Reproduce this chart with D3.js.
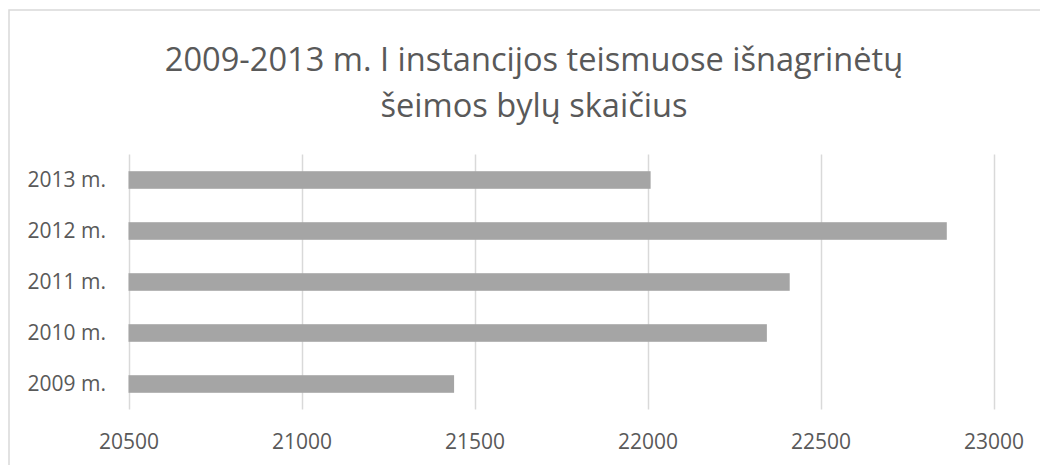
<!DOCTYPE html>
<html><head><meta charset="utf-8">
<script src="https://cdn.jsdelivr.net/npm/d3@7"></script>
<style>body{margin:0;background:#fff}svg{display:block}</style>
</head><body>
<svg id="c" width="1040" height="465"></svg>
<script>
const categories = ["2009 m.", "2010 m.", "2011 m.", "2012 m.", "2013 m."];
const values = [21441, 22345, 22411, 22865, 22009];
const xTicks = [20500, 21000, 21500, 22000, 22500, 23000];
const titleLines = ["2009-2013 m. I instancijos teismuose išnagrinėtų", "šeimos bylų skaičius"];

const font = "'Open Sans', sans-serif";
const textColor = "#595959";
const svg = d3.select("#c");

// outer chart border (cropped)
svg.append("path").attr("d", "M9,470 L9,10 L1045,10")
  .attr("fill", "none").attr("stroke", "#d9d9d9").attr("stroke-width", 1.5);

// title
svg.append("g").selectAll("text").data(titleLines).join("text")
  .attr("x", 534).attr("y", (d, i) => 71 + i * 46)
  .attr("text-anchor", "middle").attr("font-family", font)
  .attr("font-size", 32.6).attr("fill", textColor).text(d => d);

const x = d3.scaleLinear().domain([20500, 23000]).range([128.5, 993.5]);
const y = d3.scaleBand().domain(categories.slice().reverse()).range([154.5, 409.5]).padding(0);
const barH = y.bandwidth() * 0.345;

// gridlines
svg.append("g").selectAll("line").data(xTicks).join("line")
  .attr("x1", d => Math.round(x(d)) + 0.5).attr("x2", d => Math.round(x(d)) + 0.5)
  .attr("y1", 154.5).attr("y2", 409.5)
  .attr("stroke", "#d9d9d9").attr("stroke-width", 1.5);

// bars
svg.append("g").selectAll("rect").data(categories).join("rect")
  .attr("x", x(20500))
  .attr("y", d => y(d) + (y.bandwidth() - barH) / 2)
  .attr("width", (d, i) => x(values[i]) - x(20500))
  .attr("height", barH)
  .attr("fill", "#a5a5a5");

// x axis labels
const xAxis = d3.axisBottom(x).tickValues(xTicks).tickSize(0).tickPadding(0).tickFormat(d3.format("d"));
const gx = svg.append("g").attr("transform", "translate(0,434)").call(xAxis);
gx.select(".domain").remove();
gx.selectAll("text").attr("font-family", font).attr("font-size", 21).attr("fill", textColor).attr("dy", 0).attr("y", 15);

// y axis labels
const yAxis = d3.axisLeft(y).tickSize(0).tickPadding(0);
const gy = svg.append("g").attr("transform", "translate(106,0)").call(yAxis);
gy.select(".domain").remove();
gy.selectAll("text").attr("font-family", font).attr("font-size", 21).attr("fill", textColor);
</script>
</body></html>
